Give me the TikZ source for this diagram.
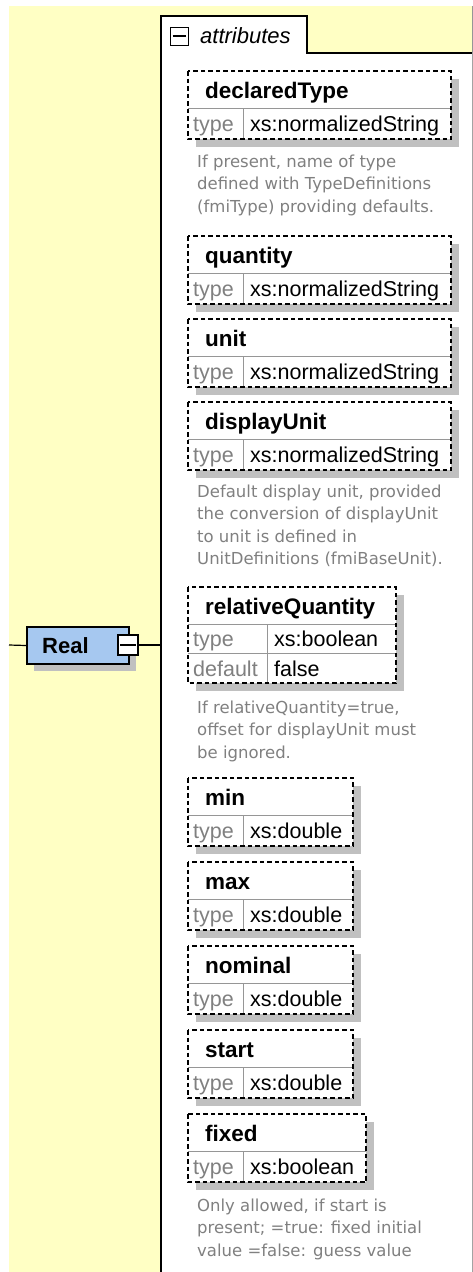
\documentclass[tikz,border=0pt]{standalone}
\usepackage{fontspec}
\setmainfont{Liberation Sans}
\newfontfamily\docfont{DejaVu Sans}
\usetikzlibrary{positioning}

\definecolor{panelyellow}{RGB}{255,255,196}
\definecolor{elemblue}{RGB}{166,200,240}
\definecolor{shadowgray}{RGB}{192,192,192}
\definecolor{linegray}{RGB}{150,150,150}
\definecolor{docgray}{RGB}{128,128,128}

\tikzset{
  boxshadow/.style={fill=shadowgray},
  gridline/.style={draw=linegray,line width=1pt},
  attrframe/.style={draw=black,line width=1.5pt,dash pattern=on 4.5pt off 3pt},
  attrtitle/.style={anchor=base west,inner sep=0pt,font=\fontsize{22.5}{26}\selectfont\bfseries},
  attrkey/.style={anchor=base west,inner sep=0pt,text=docgray,font=\fontsize{21.5}{25}\selectfont},
  attrval/.style={anchor=base west,inner sep=0pt,font=\fontsize{21.5}{25}\selectfont},
  % placed at the baseline of its last line
  attrdoc/.style={anchor=base west,inner sep=0pt,align=left,text=docgray,
    font=\docfont\fontsize{16.5}{22.5}\selectfont}
}

% one attribute with a single "type" row: #1 name, #2 top, #3 right edge, #4 title, #5 type
\newcommand\attrbox[5]{%
  \fill[boxshadow] (196,#2+8) rectangle (#3+8,#2+76);
  \fill[white] (188,#2) rectangle (#3,#2+68);
  \draw[gridline] (188,#2+37) -- (#3,#2+37) (243,#2+37) -- (243,#2+68);
  \draw[attrframe] (188,#2) rectangle (#3,#2+68);
  \node[attrtitle] (#1) at (205,#2+27) {#4};
  \node[attrkey] (#1-key) at (193,#2+60) {type};
  \node[attrval] (#1-val) at (250,#2+60) {#5};
}

\begin{document}
\begin{tikzpicture}[x=1pt,y=-1pt]
\useasboundingbox (0,0) rectangle (473,1272);
\fill[panelyellow] (9,6) rectangle (473,1272);
\draw[linegray] (472.5,6) -- (472.5,1272);

% attributes panel
\fill[white] (161,16) rectangle (307,53) (161,53) rectangle (472,1272);
\draw[line width=2pt] (161,1272) -- (161,16) -- (307,16) -- (307,53) -- (472,53);
\node[draw,line width=1pt,minimum size=18pt,inner sep=0pt] (attrpm) at (179,36) {};
\draw[line width=1.2pt] ([xshift=3pt]attrpm.west) -- ([xshift=-3pt]attrpm.east);
\node[anchor=base west,inner sep=0pt,font=\fontsize{22}{26}\selectfont\itshape] (attrlabel) at (200,43) {attributes};
\coordinate (panel) at (161,645);

% element Real
\fill[boxshadow] (34,634) rectangle (136,671);
\node[draw,line width=2pt,fill=elemblue,minimum width=102pt,minimum height=37pt,
  inner sep=0pt,anchor=north west] (real) at (26,626) {};
\node[anchor=base west,inner sep=0pt,font=\fontsize{22}{26}\selectfont\bfseries] (reallabel) at (42,653) {Real};
\node[draw,line width=1.2pt,fill=white,minimum size=20pt,inner sep=0pt] (realpm) at (128,645) {};
\draw[line width=1.2pt] ([xshift=3pt]realpm.west) -- ([xshift=-3pt]realpm.east);
\coordinate (realin) at (9,645);
\draw[line width=1.2pt] (realin) -- (real.west);
\draw[line width=1.2pt] (realpm.east) -- (panel);

\attrbox{declaredType}{71}{451}{declaredType}{xs:normalizedString}
\node[attrdoc] (declaredType-doc) at (197,212)
  {If present, name of type\\defined with TypeDefinitions\\(fmiType) providing defaults.};

\attrbox{quantity}{236}{451}{quantity}{xs:normalizedString}
\attrbox{unit}{319}{451}{unit}{xs:normalizedString}
\attrbox{displayUnit}{402}{451}{displayUnit}{xs:normalizedString}
\node[attrdoc] (displayUnit-doc) at (197,564.5)
  {Default display unit, provided\\the conversion of displayUnit\\to unit is defined in\\UnitDefinitions (fmiBaseUnit).};

% relativeQuantity has a default row too
\fill[boxshadow] (196,595) rectangle (404,691);
\fill[white] (188,587) rectangle (396,683);
\draw[gridline] (188,624) -- (396,624) (188,653) -- (396,653) (267,624) -- (267,683);
\draw[attrframe] (188,587) rectangle (396,683);
\node[attrtitle] (relativeQuantity) at (205,614) {relativeQuantity};
\node[attrkey] (relativeQuantity-key) at (193,646) {type};
\node[attrval] (relativeQuantity-val) at (274,646) {xs:boolean};
\node[attrkey] (relativeQuantity-defkey) at (193,676) {default};
\node[attrval] (relativeQuantity-defval) at (274,676) {false};
\node[attrdoc] (relativeQuantity-doc) at (197,758)
  {If relativeQuantity=true,\\offset for displayUnit must\\be ignored.};

\attrbox{min}{778}{353}{min}{xs:double}
\attrbox{max}{862}{353}{max}{xs:double}
\attrbox{nominal}{946}{353}{nominal}{xs:double}
\attrbox{start}{1030}{353}{start}{xs:double}
\attrbox{fixed}{1114}{366}{fixed}{xs:boolean}
\node[attrdoc] (fixed-doc) at (197,1256)
  {Only allowed, if start is\\present; =true: fixed initial\\value =false: guess value};
\end{tikzpicture}
\end{document}
